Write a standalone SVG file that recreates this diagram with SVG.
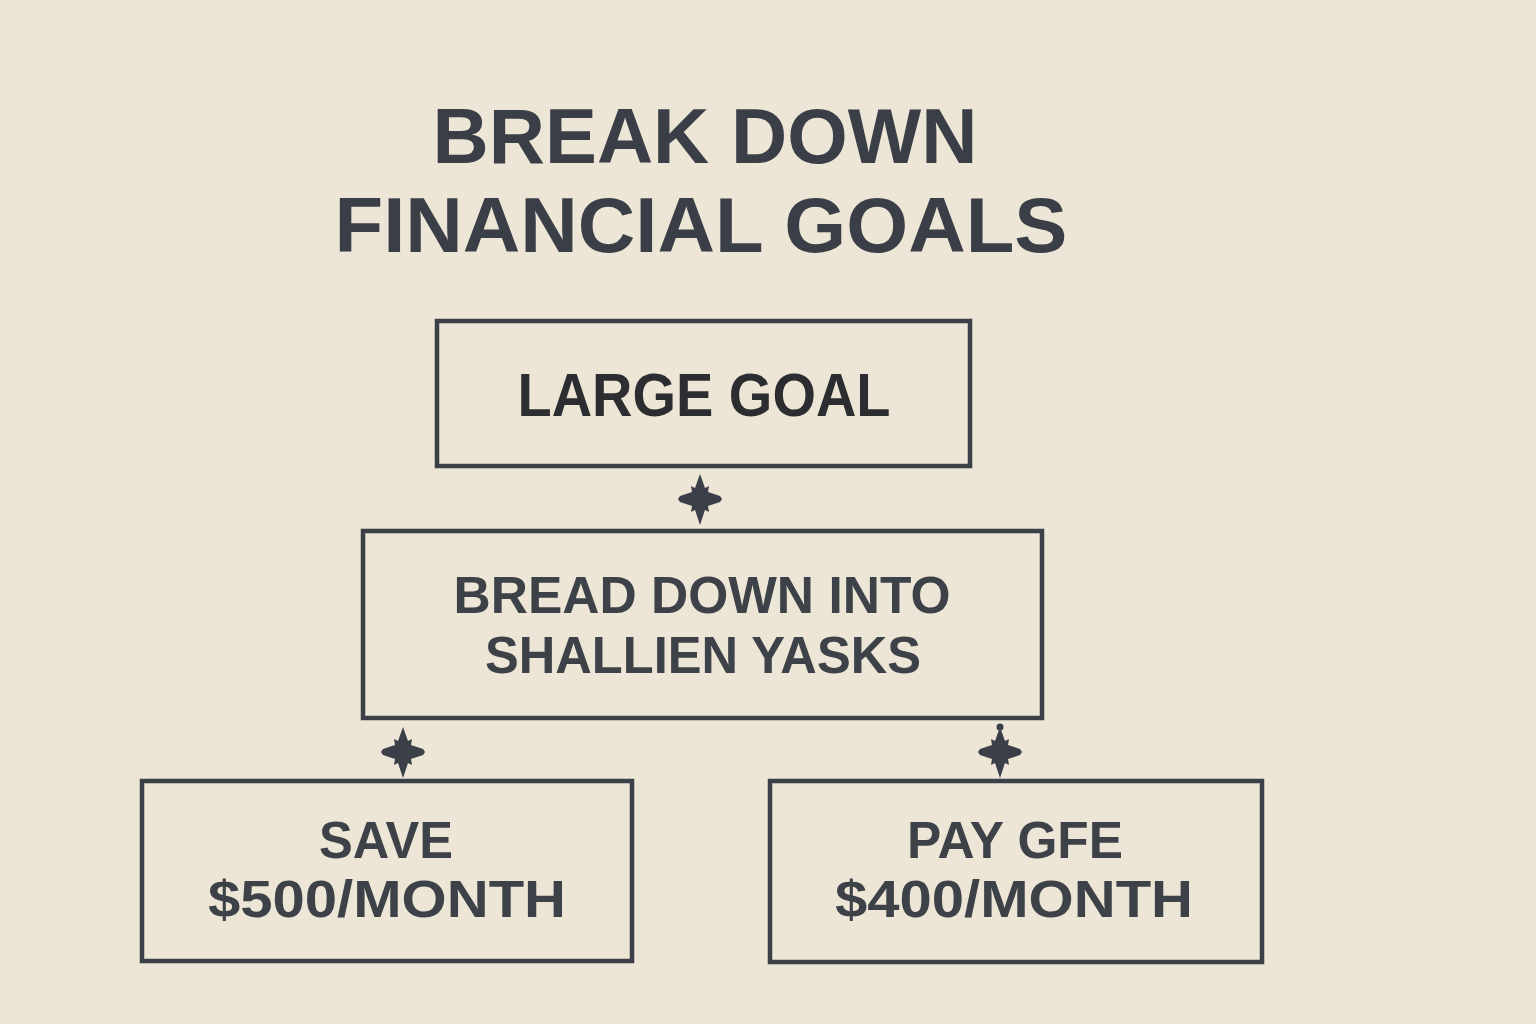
<svg xmlns="http://www.w3.org/2000/svg" width="1536" height="1024" viewBox="0 0 1536 1024">
<style>
.bg{fill:#ede5d5}
.box{fill:none;stroke:#3b4048;stroke-width:4.5}
.t{font-family:"Liberation Sans","Open Sans",sans-serif;font-weight:700;text-anchor:middle}
.title{font-size:77px;fill:#3a3f47}
.big{font-size:62px;fill:#2b2d31}
.mid{font-size:51px;fill:#3d4249}
.sm{font-size:52px;fill:#3d4249}
.star{fill:#3b4048}
</style>
<defs>
<path id="star" d="M0,-25 L5,-11 L9,-13 L8,-7 L20,-3 L22,0 L20,3 L8,7 L9,13 L5,11 L0,26 L-5,11 L-9,13 L-8,7 L-20,3 L-22,0 L-20,-3 L-8,-7 L-9,-13 L-5,-11 Z"/>
</defs>
<rect class="bg" x="0" y="0" width="1536" height="1024"/>
<g id="title">
<text class="t title" x="705" y="163" textLength="545" lengthAdjust="spacingAndGlyphs">BREAK DOWN</text>
<text class="t title" x="701" y="252" textLength="733" lengthAdjust="spacingAndGlyphs">FINANCIAL GOALS</text>
</g>
<g id="connectors">
<use href="#star" class="star" x="700" y="499"/>
<use href="#star" class="star" x="403" y="752"/>
<use href="#star" class="star" x="1000" y="752"/>
<circle class="star" cx="1000" cy="727" r="3.5"/>
</g>
<g id="node-large-goal">
<rect class="box" x="437" y="321" width="533" height="145"/>
<text class="t big" x="704" y="416" textLength="373" lengthAdjust="spacingAndGlyphs">LARGE GOAL</text>
</g>
<g id="node-break-down">
<rect class="box" x="363" y="531" width="679" height="187"/>
<text class="t mid" x="702" y="613" textLength="497" lengthAdjust="spacingAndGlyphs">BREAD DOWN INTO</text>
<text class="t mid" x="703" y="673" textLength="436" lengthAdjust="spacingAndGlyphs">SHALLIEN YASKS</text>
</g>
<g id="node-save">
<rect class="box" x="142" y="781" width="490" height="180"/>
<text class="t sm" x="386" y="858" textLength="134" lengthAdjust="spacingAndGlyphs">SAVE</text>
<text class="t sm" x="387" y="917" textLength="358" lengthAdjust="spacingAndGlyphs">$500/MONTH</text>
</g>
<g id="node-pay">
<rect class="box" x="770" y="781" width="492" height="181"/>
<text class="t sm" x="1015" y="858" textLength="216" lengthAdjust="spacingAndGlyphs">PAY GFE</text>
<text class="t sm" x="1014" y="917" textLength="358" lengthAdjust="spacingAndGlyphs">$400/MONTH</text>
</g>
</svg>
